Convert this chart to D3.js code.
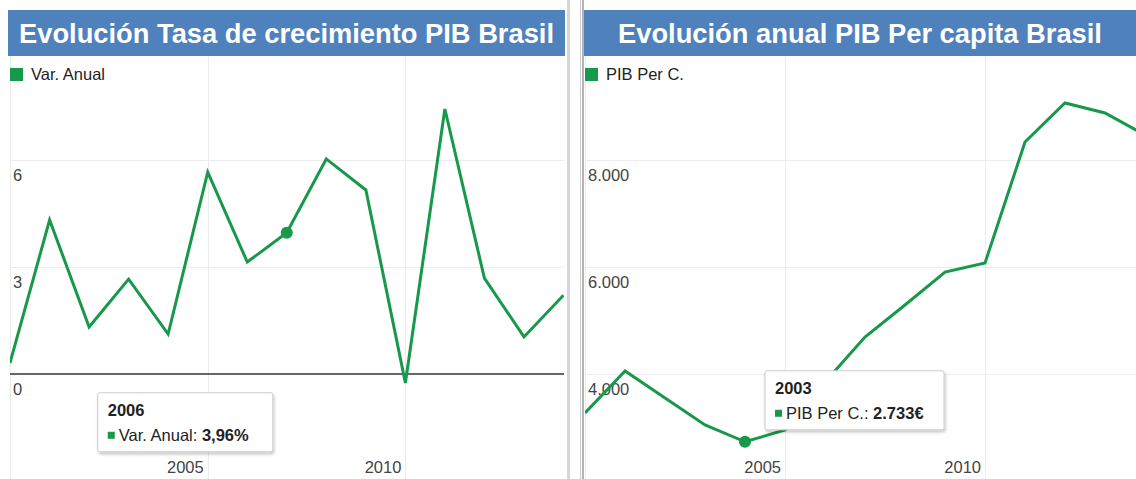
<!DOCTYPE html>
<html>
<head>
<meta charset="utf-8">
<script src="https://cdn.jsdelivr.net/npm/d3@7/dist/d3.min.js"></script>
<style>
  body { margin: 0; background: #fff; }
  svg text { font-family: "Liberation Sans", Arial, sans-serif; }
</style>
</head>
<body>
<div id="charts"></div>
<script>
// data (Brasil 1999 - 2013)
var years = [1999, 2000, 2001, 2002, 2003, 2004, 2005, 2006, 2007, 2008, 2009, 2010, 2011, 2012, 2013];
var varAnual = [0.31, 4.32, 1.32, 2.66, 1.12, 5.66, 3.14, 3.96, 6.03, 5.16, -0.25, 7.43, 2.69, 1.04, 2.21];
var pibPerCapita = [3271, 4056, 3551, 3047, 2733, 2953, 3850, 4692, 5290, 5906, 6075, 8336, 9065, 8878, 8467];

var titles = ["Evolución Tasa de crecimiento PIB Brasil", "Evolución anual PIB Per capita Brasil"];
var seriesNames = ["Var. Anual", "PIB Per C."];
var yTicksLeft = [0, 3, 6];
var yTicksRight = [4000, 6000, 8000];
var xTickYears = [2000, 2005, 2010];
var tooltipYears = [2006, 2003];

var es = d3.formatLocale({ decimal: ",", thousands: ".", grouping: [3], currency: ["", "€"] });

var W = 1136, H = 479;
var green = "#17984a";
var blue = "#4f81bd";
var fs = 16.5;

var svg = d3.select("#charts").append("svg")
  .attr("width", W)
  .attr("height", H)
  .style("display", "block");

var defs = svg.append("defs");
defs.append("filter").attr("id", "shadow")
  .attr("x", "-10%").attr("y", "-10%").attr("width", "130%").attr("height", "140%")
  .append("feDropShadow")
  .attr("dx", 1).attr("dy", 2).attr("stdDeviation", 1.5)
  .attr("flood-color", "#000").attr("flood-opacity", 0.25);

// divider between the two panels
svg.append("rect").attr("x", 567).attr("y", 0).attr("width", 3).attr("height", H).attr("fill", "#d6d6d6");
svg.append("line").attr("x1", 580.5).attr("x2", 580.5).attr("y1", 0).attr("y2", H).attr("stroke", "#cfcfcf");
svg.append("line").attr("x1", 583).attr("x2", 583).attr("y1", 0).attr("y2", H).attr("stroke", "#9a9a9a").attr("stroke-width", 1.5);

// each annual value sits at the end of its year
function yearEnd(y) { return new Date(y + 1, 0, 1); }

function drawPanel(p) {
  var x = d3.scaleTime()
    .domain([new Date(2000, 0, 1), new Date(2014, 0, 1)])
    .range([p.left, p.xEnd]);
  var y = d3.scaleLinear()
    .domain(p.yDomain)
    .range([481, 53]);

  var g = svg.append("g");

  defs.append("clipPath").attr("id", "clip" + p.id)
    .append("rect")
    .attr("x", p.left).attr("y", 53)
    .attr("width", p.right - p.left).attr("height", H);

  // gridlines
  g.selectAll(".hgrid")
    .data(p.yTicks.filter(function(d) { return d !== 0 || !p.zeroLine; }))
    .enter().append("line")
    .attr("x1", p.left).attr("x2", p.right)
    .attr("y1", function(d) { return Math.round(y(d)) + 0.5; })
    .attr("y2", function(d) { return Math.round(y(d)) + 0.5; })
    .attr("stroke", "#ececec");

  g.selectAll(".vgrid")
    .data(xTickYears)
    .enter().append("line")
    .attr("x1", function(d) { return Math.round(x(new Date(d, 0, 1))) + 0.5; })
    .attr("x2", function(d) { return Math.round(x(new Date(d, 0, 1))) + 0.5; })
    .attr("y1", 56).attr("y2", H)
    .attr("stroke", "#ececec");

  if (p.zeroLine) {
    g.append("line")
      .attr("x1", p.left).attr("x2", p.right)
      .attr("y1", y(0)).attr("y2", y(0))
      .attr("stroke", "#333").attr("stroke-width", 1.5);
  }

  // y labels sit just under their gridline
  g.selectAll(".ylab")
    .data(p.yTicks)
    .enter().append("text")
    .attr("x", p.left + 3)
    .attr("y", function(d) { return y(d) + 21; })
    .attr("font-size", fs)
    .attr("fill", "#444")
    .text(p.yFormat);

  // x labels end at their gridline
  g.selectAll(".xlab")
    .data(xTickYears.filter(function(d) { return d > 2000; }))
    .enter().append("text")
    .attr("x", function(d) { return x(new Date(d, 0, 1)) - 4; })
    .attr("y", 473)
    .attr("text-anchor", "end")
    .attr("font-size", fs)
    .attr("fill", "#444")
    .text(function(d) { return d; });

  var line = d3.line()
    .x(function(d, i) { return x(yearEnd(years[i])); })
    .y(function(d) { return y(d); });

  g.append("path")
    .datum(p.values)
    .attr("clip-path", "url(#clip" + p.id + ")")
    .attr("d", line)
    .attr("fill", "none")
    .attr("stroke", green)
    .attr("stroke-width", 3)
    .attr("stroke-linejoin", "miter");

  // title bar
  svg.append("rect")
    .attr("x", p.barLeft).attr("y", 10)
    .attr("width", p.barRight - p.barLeft).attr("height", 46)
    .attr("fill", blue);
  svg.append("text")
    .attr("x", (p.barLeft + p.barRight) / 2)
    .attr("y", 43)
    .attr("text-anchor", "middle")
    .attr("font-size", 27.3)
    .attr("font-weight", "bold")
    .attr("fill", "#fff")
    .text(p.title);

  // legend
  svg.append("rect")
    .attr("x", p.left).attr("y", 68)
    .attr("width", 13).attr("height", 13)
    .attr("fill", green);
  svg.append("text")
    .attr("x", p.left + 21).attr("y", 80)
    .attr("font-size", fs)
    .attr("fill", "#222")
    .text(p.name);

  // highlighted point + tooltip
  var i = years.indexOf(p.tipYear);
  var px = x(yearEnd(p.tipYear)), py = y(p.values[i]);
  g.append("circle")
    .attr("cx", px).attr("cy", py).attr("r", 6)
    .attr("fill", green);

  var tx = px + p.tipDx, ty = py + p.tipDy;
  var tip = svg.append("g").attr("transform", "translate(" + tx + "," + ty + ")");
  tip.append("rect")
    .attr("width", p.tipW).attr("height", 59)
    .attr("rx", 2)
    .attr("fill", "#fff")
    .attr("stroke", "#ccc")
    .attr("filter", "url(#shadow)");
  tip.append("text")
    .attr("x", 10).attr("y", 23)
    .attr("font-size", fs).attr("font-weight", "bold")
    .attr("fill", "#222")
    .text(p.tipYear);
  tip.append("rect")
    .attr("x", 10).attr("y", 39)
    .attr("width", 7).attr("height", 7)
    .attr("fill", green);
  var t2 = tip.append("text")
    .attr("x", 21).attr("y", 48)
    .attr("font-size", fs)
    .attr("fill", "#222");
  t2.append("tspan").text(p.name + ": ");
  t2.append("tspan").attr("font-weight", "bold").text(p.tipFormat(p.values[i]));
}

drawPanel({
  id: 0, title: titles[0], name: seriesNames[0], values: varAnual,
  left: 10, right: 564, xEnd: 563.5, barLeft: 8, barRight: 565,
  yDomain: [-3, 9], yTicks: yTicksLeft, zeroLine: true,
  yFormat: function(d) { return es.format(",")(d); },
  tipYear: tooltipYears[0], tipDx: -189, tipDy: 160, tipW: 175,
  tipFormat: function(v) { return es.format(".2f")(v) + "%"; }
});

drawPanel({
  id: 1, title: titles[1], name: seriesNames[1], values: pibPerCapita,
  left: 585, right: 1136, xEnd: 1145, barLeft: 584, barRight: 1136,
  yDomain: [2000, 10000], yTicks: yTicksRight, zeroLine: false,
  yFormat: function(d) { return es.format(",")(d); },
  tipYear: tooltipYears[1], tipDx: 20, tipDy: -71, tipW: 179,
  tipFormat: function(v) { return es.format(",")(v) + "€"; }
});
</script>
</body>
</html>
